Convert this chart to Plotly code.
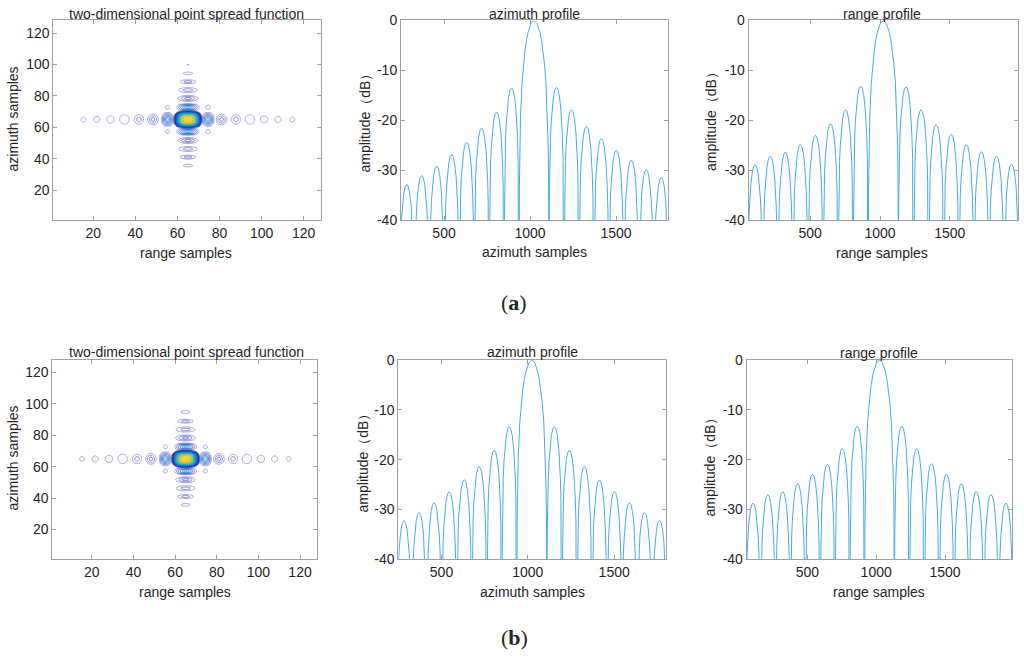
import numpy as np
import plotly.graph_objects as go

fnt = "Liberation Sans"
(txt_color, axis_color, line_color) = ("#262626", "#a0a0a0", "#45ace2")

# ---------------- 1-D profiles (dB) ----------------
# null positions (sample index) and lobe peak levels, left to right
az_nulls = [240, 327, 414, 501, 588, 675, 762, 849, 936, 1110,
            1197, 1284, 1371, 1458, 1545, 1632, 1719, 1806]
az_peaks_a = [-32.9, -31.1, -29.2, -26.9, -24.4, -21.6, -18.4, -13.6, 0.0,
              -13.4, -17.9, -21.2, -23.7, -26.0, -28.0, -29.9, -31.5]
az_peaks_b = [-32.2, -30.6, -28.6, -26.4, -24.0, -21.4, -18.1, -13.4, 0.0,
              -13.4, -18.1, -21.4, -24.1, -26.4, -28.6, -30.6, -32.2]
rg_nulls = [52, 160, 268, 376, 484, 592, 700, 808, 916, 1132,
            1240, 1348, 1456, 1564, 1672, 1780, 1888, 1996]
rg_peaks_a = [-28.9, -27.2, -26.4, -24.9, -23.0, -20.7, -17.9, -13.2, 0.0,
              -13.3, -17.9, -20.9, -22.8, -24.9, -26.3, -27.2, -28.8]
rg_peaks_b = [-28.7, -27.0, -26.4, -24.8, -22.9, -20.9, -17.8, -13.3, 0.0,
              -13.3, -17.8, -20.8, -22.9, -24.8, -26.4, -27.0, -28.7]

db_ticks = [0, -10, -20, -30, -40]
db_tick_text = ["0", "-10", "-20", "-30", "-40"]
sample_ticks = [500, 1000, 1500]
psf_ticks = [20, 40, 60, 80, 100, 120]

# outline of one lobe between two nulls (fraction of lobe width -> dB below its peak)
side_frac = [0, 0.01, 0.03, 0.06, 0.1, 0.15, 0.2, 0.3, 0.4, 0.5,
             0.6, 0.7, 0.8, 0.85, 0.9, 0.94, 0.97, 0.99, 1]
side_drop = [-80, -30, -20.5, -14.6, -10.2, -6.9, -4.6, -1.8, -0.4, 0,
             -0.4, -1.8, -4.6, -6.9, -10.2, -14.6, -20.5, -30, -80]
main_frac = [0, 0.01, 0.025, 0.05, 0.1, 0.15, 0.2, 0.25, 0.3, 0.4, 0.5,
             0.6, 0.7, 0.75, 0.8, 0.85, 0.9, 0.95, 0.975, 0.99, 1]
main_drop = [-80, -33.8, -25.6, -19.3, -12.6, -8.7, -5.9, -3.9, -2.4, -0.6, 0,
             -0.6, -2.4, -3.9, -5.9, -8.7, -12.6, -19.3, -25.6, -33.8, -80]

# ---------------- 2-D point spread function ----------------
psf_center = [65, 65]
main_w, main_h = 13.0, 10.6
rg_lobe_x = [15.3, 21.6, 28.2, 34.8, 41.7, 48.4, 55.3, 74.5, 81.0, 87.8, 94.5, 101.2, 107.8, 114.6]
rg_lobe_w = [2.2, 2.9, 3.5, 4.5, 4.4, 5.1, 5.7, 5.7, 5.1, 4.4, 4.5, 3.5, 2.9, 2.2]
rg_lobe_h = [3.0, 3.8, 4.6, 6.0, 5.9, 6.8, 8.8, 8.8, 6.8, 5.9, 6.0, 4.6, 3.8, 3.0]
rg_lobe_rings = [1, 1, 1, 1, 2, 3, 6, 6, 3, 2, 1, 1, 1, 1]

az_lobe_y_a = [35.6, 41.0, 46.2, 51.6, 57.3, 72.7, 78.4, 83.7, 89.0, 94.3, 99.8]
az_lobe_w_a = [4.3, 7.5, 9.0, 9.5, 10.4, 10.4, 9.5, 9.0, 7.5, 4.3, 0.7]
az_lobe_h_a = [1.7, 2.5, 3.2, 3.8, 4.7, 4.7, 3.8, 3.2, 2.5, 1.7, 0.8]
az_lobe_rings_a = [1, 2, 2, 3, 6, 6, 3, 2, 2, 1, 1]
az_lobe_y_b = [35.7, 41.0, 46.3, 51.7, 57.3, 72.7, 78.3, 83.7, 89.0, 94.8]
az_lobe_w_b = [4.3, 7.5, 9.0, 9.5, 10.4, 10.4, 9.5, 9.0, 7.5, 4.5]
az_lobe_h_b = [1.7, 2.5, 3.2, 3.8, 4.7, 4.7, 3.8, 3.2, 2.5, 1.8]
az_lobe_rings_b = [1, 2, 2, 3, 6, 6, 3, 2, 2, 1]

corner_x = [55.3, 74.5]
corner_y = [57.3, 72.7]
corner_w, corner_h = 1.9, 2.5

ring_colors = ["rgba(70,60,170,0.5)", "rgba(50,60,180,0.65)", "rgba(35,75,195,0.8)",
               "#1c62d2", "#1488d6", "#22b2e2"]
fill_scale = [1.0, 0.93, 0.85, 0.77, 0.68, 0.6, 0.52, 0.42, 0.3]
fill_colors = ["#2b2f8e", "#1746b8", "#0f6bd8", "#1592d8", "#22b0cc",
               "#4cc29a", "#9ec65a", "#eab83c", "#f6d22c"]


def profile(nulls, peaks):
    xs, ys = [], []
    top = max(peaks)
    for left, right, pk in zip(nulls[:-1], nulls[1:], peaks):
        frac, drop = (main_frac, main_drop) if pk == top else (side_frac, side_drop)
        xs += [left + f * (right - left) for f in frac]
        ys += [pk + d for d in drop]
    return xs, ys


def blob(cx, cy, hw, hh, p):
    t = np.linspace(0, 2 * np.pi, 49)
    c, s = np.cos(t), np.sin(t)
    x = cx + hw * np.sign(c) * np.abs(c) ** (2 / p)
    y = cy + hh * np.sign(s) * np.abs(s) ** (2 / p)
    return "M " + " L ".join(f"{a:.3f},{b:.3f}" for a, b in zip(x, y)) + " Z"


def rings(cx, cy, w, h, n, xr, yr, p=2.2):
    out = []
    for j in range(n):
        sc = 1 - j / n
        out.append(dict(type="path", path=blob(cx, cy, w / 2 * sc, h / 2 * sc, p),
                        xref=xr, yref=yr, line=dict(color=ring_colors[j], width=0.9)))
    return out


def psf_shapes(xr, yr, az_y, az_w, az_h, az_n):
    cx, cy = psf_center
    shp = []
    for x, w, h, n in zip(rg_lobe_x, rg_lobe_w, rg_lobe_h, rg_lobe_rings):
        shp += rings(x, cy, w, h, n, xr, yr, 2.0 if n < 6 else 2.6)
    for y, w, h, n in zip(az_y, az_w, az_h, az_n):
        shp += rings(cx, y, w, h, n, xr, yr, 2.0 if n < 6 else 2.6)
    for x in corner_x:
        for y in corner_y:
            shp += rings(x, y, corner_w, corner_h, 1, xr, yr)
    shp += rings(cx, cy, main_w * 1.04, main_h * 1.05, 1, xr, yr, 3.0)
    for sc, col in zip(fill_scale, fill_colors):
        shp.append(dict(type="path", path=blob(cx, cy, main_w / 2 * sc, main_h / 2 * sc, 3.2),
                        xref=xr, yref=yr, fillcolor=col, line=dict(color=col, width=0.5)))
    return shp


# ---------------- figure ----------------
fig = go.Figure()
for ax_id in ["", "4"]:
    fig.add_trace(go.Scatter(x=[], y=[], xaxis="x" + ax_id, yaxis="y" + ax_id, showlegend=False))

for ax_id, (nulls, peaks) in zip(["2", "3", "5", "6"],
                                 [(az_nulls, az_peaks_a), (rg_nulls, rg_peaks_a),
                                  (az_nulls, az_peaks_b), (rg_nulls, rg_peaks_b)]):
    px_, py_ = profile(nulls, peaks)
    fig.add_trace(go.Scatter(x=px_, y=py_, mode="lines", xaxis="x" + ax_id, yaxis="y" + ax_id,
                             line=dict(color=line_color, width=1.0), showlegend=False,
                             hoverinfo="skip"))

(W, H) = (1024, 662)


def fy(y):
    # pixel row on the screenshot -> paper y (screen shows rows as 7.5 + 0.976 * y)
    return 1 - ((y - 7.5) / 0.976) / H


base = dict(showline=True, linecolor=axis_color, linewidth=1, mirror="ticks", ticks="inside",
            ticklen=4, tickcolor=axis_color, showgrid=False, zeroline=False,
            tickfont=dict(family=fnt, size=14, color=txt_color))

row_a = [fy(219.5), fy(20)]
row_b = [fy(559), fy(359.5)]
x_domains = [(53.3, 320.5), (401, 667.7), (748.7, 1018), (52.3, 316.7), (398.3, 666), (746.7, 1012.3)]
x_ranges = [[1, 128], [250, 1800], [60, 1988], [1, 128], [250, 1800], [60, 1988]]

layout_axes = {}
for i in range(6):
    n = "" if i == 0 else str(i + 1)
    rows = row_a if i < 3 else row_b
    is_psf = i in (0, 3)
    layout_axes["xaxis" + n] = dict(base, domain=[x_domains[i][0] / W, x_domains[i][1] / W],
                                    anchor="y" + n, range=x_ranges[i],
                                    tickvals=psf_ticks if is_psf else sample_ticks)
    if is_psf:
        layout_axes["yaxis" + n] = dict(base, domain=rows, anchor="x" + n, range=[1, 128],
                                        tickvals=psf_ticks)
    else:
        layout_axes["yaxis" + n] = dict(base, domain=rows, anchor="x" + n, range=[-40, 0],
                                        tickvals=db_ticks, ticktext=db_tick_text)


def label(text, x, y, angle=0, size=14, family=fnt):
    return dict(text=text, x=x / W, y=min(fy(y), 0.99), xref="paper", yref="paper",
                showarrow=False, textangle=angle, xanchor="center", yanchor="middle",
                font=dict(family=family, size=size, color=txt_color))


annotations = [
    label("two-dimensional point spread function", 186, 12),
    label("azimuth profile", 534, 12.5),
    label("range profile", 882, 12),
    label("range samples", 186, 253),
    label("azimuth samples", 534, 252),
    label("range samples", 882, 253),
    label("azimuth samples", 13, 119, -90),
    label("amplitude（dB）", 365, 119, -90),
    label("amplitude（dB）", 711.5, 118, -90),
    label("two-dimensional point spread function", 186, 352),
    label("azimuth profile", 532, 352),
    label("range profile", 879, 353),
    label("range samples", 185, 592),
    label("azimuth samples", 532.5, 592),
    label("range samples", 879, 592),
    label("azimuth samples", 13, 458, -90),
    label("amplitude（dB）", 363, 459, -90),
    label("amplitude（dB）", 710, 463, -90),
    label("(<b>a</b>)", 514, 302, size=22, family="Liberation Serif"),
    label("(<b>b</b>)", 514, 637, size=22, family="Liberation Serif"),
]

shapes = (psf_shapes("x", "y", az_lobe_y_a, az_lobe_w_a, az_lobe_h_a, az_lobe_rings_a)
          + psf_shapes("x4", "y4", az_lobe_y_b, az_lobe_w_b, az_lobe_h_b, az_lobe_rings_b))

fig.update_layout(
    width=W, height=H,
    margin=dict(l=0, r=0, t=0, b=0),
    paper_bgcolor="white", plot_bgcolor="white",
    showlegend=False,
    annotations=annotations,
    shapes=shapes,
    **layout_axes,
)

# the page's default margins would push the 1024x662 figure past the window
reset_page = ("document.documentElement.style.margin = '0px';"
              "document.body.style.margin = '0px';"
              "document.body.style.padding = '0px';"
              "document.documentElement.style.overflow = 'hidden';"
              "document.body.style.overflow = 'hidden';")
fig.write_html("out.html", config={"displayModeBar": False}, post_script=reset_page)
